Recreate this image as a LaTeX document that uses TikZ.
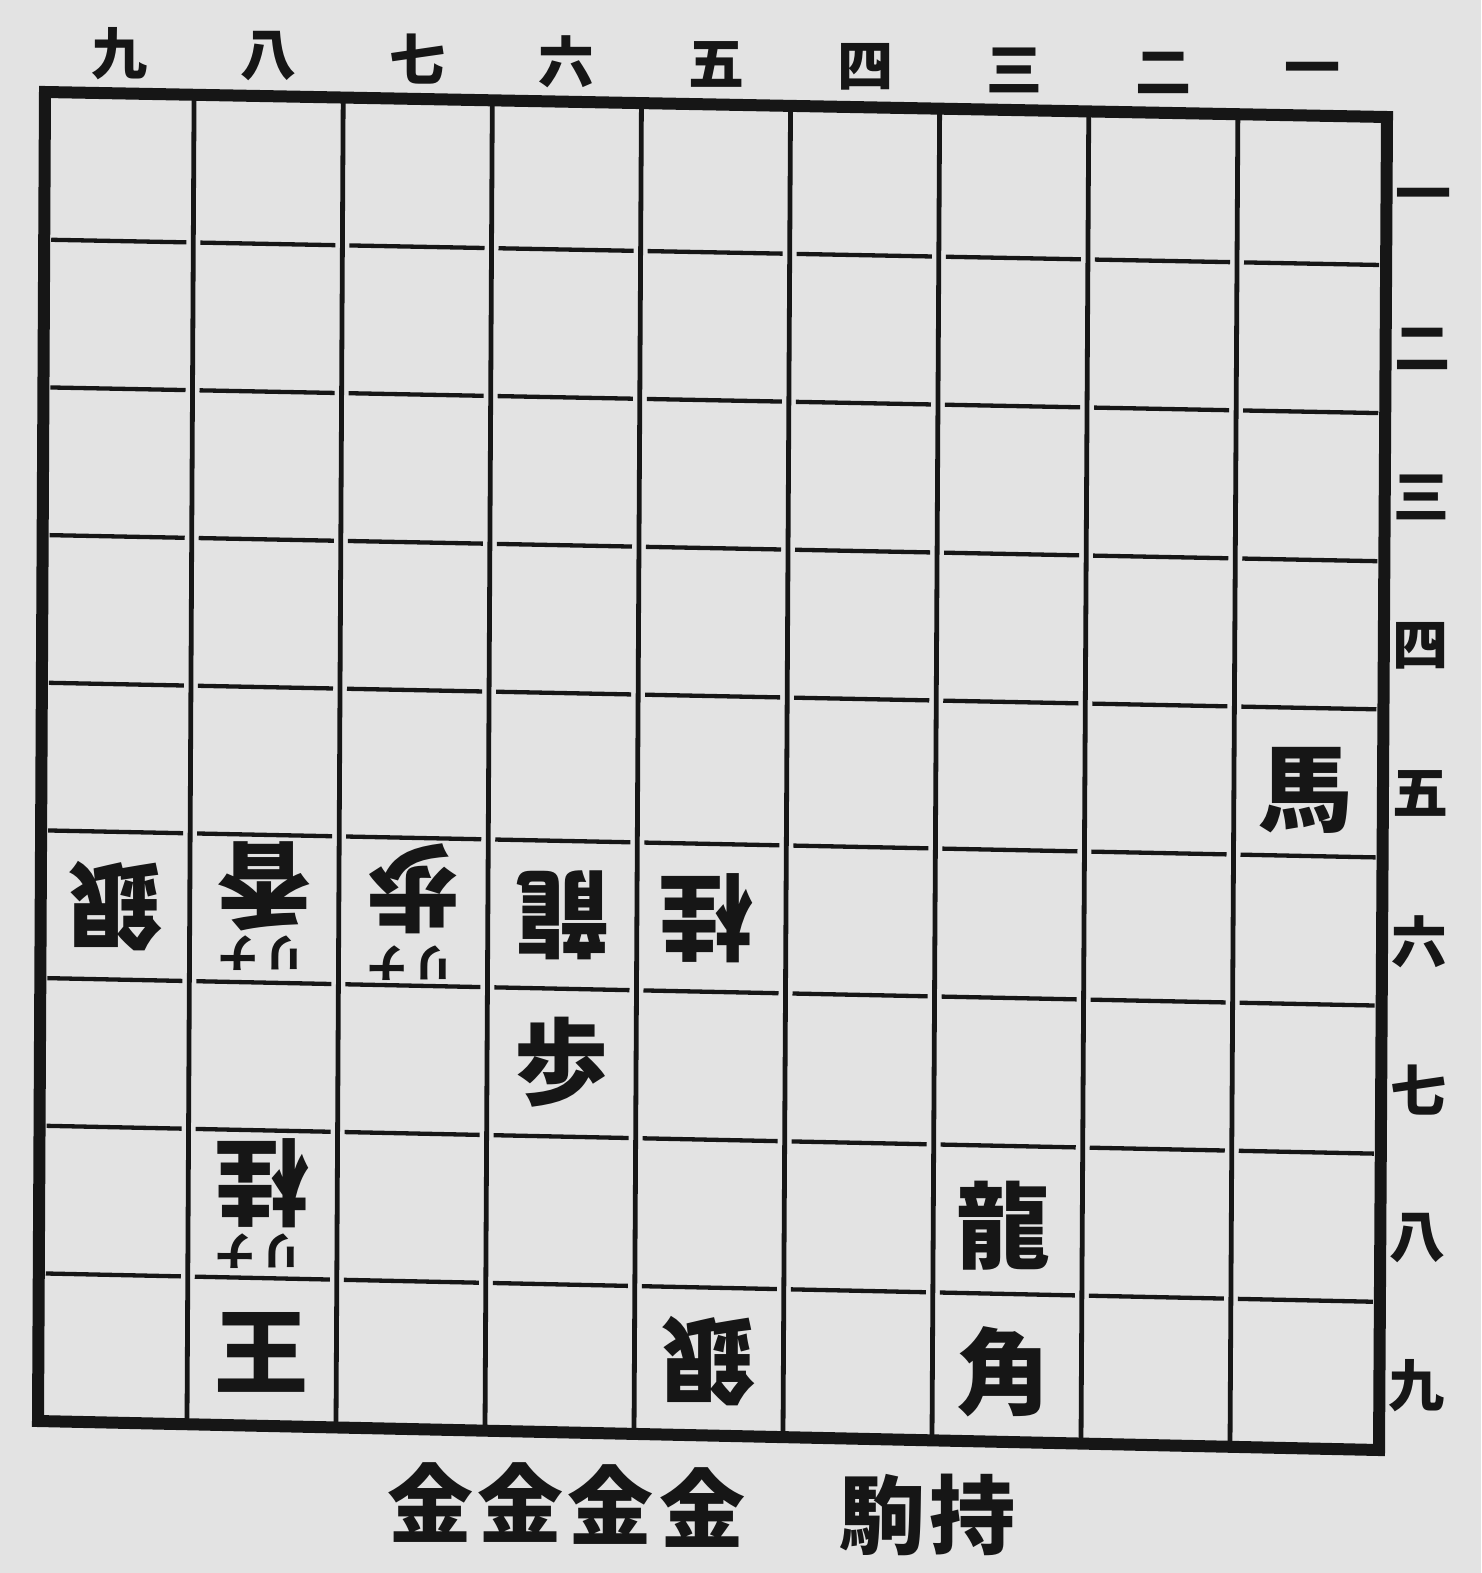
\documentclass[tikz,border=0pt]{standalone}
\usepackage{fontspec}
\newfontfamily\cjk{Noto Sans CJK JP}
\usetikzlibrary{calc}
\definecolor{paper}{HTML}{E3E3E3}
\definecolor{ink}{HTML}{161616}
\tikzset{
  border/.style={draw=ink, line width=12pt, line cap=rect},
  vline/.style={draw=ink, line width=4.8pt},
  hline/.style={draw=ink, line width=4.3pt, shorten <=7pt, shorten >=7pt},
  piece/.style={font={\cjk\bfseries\fontsize{94pt}{94pt}\selectfont}, text=ink, inner sep=0pt},
  gote/.style={piece, rotate=180},
  kana/.style={font={\cjk\bfseries\fontsize{40pt}{40pt}\selectfont}, text=ink, inner sep=0pt, rotate=180},
  coordlabel/.style={font={\cjk\bfseries\fontsize{56pt}{56pt}\selectfont}, text=ink, inner sep=0pt},
  hand/.style={font={\cjk\bfseries\fontsize{86pt}{86pt}\selectfont}, text=ink, inner sep=0pt}
}
\begin{document}
\begin{tikzpicture}[x=1pt,y=-1pt]
\useasboundingbox (0,0) rectangle (1481,1573);
\fill[paper] (0,0) rectangle (1481,1573);
% board corners
\coordinate (TL) at (45,92);
\coordinate (TR) at (1387,117);
\coordinate (BL) at (38,1421);
\coordinate (BR) at (1379,1450);
\foreach \i in {0,...,9} {
  \coordinate (T\i) at ($(TL)!\i/9!(TR)$);
  \coordinate (B\i) at ($(BL)!\i/9!(BR)$);
}
\foreach \c in {0,...,8} {
  \coordinate (Tm\c) at ($(TL)!{(\c+0.5)/9}!(TR)$);
  \coordinate (Bm\c) at ($(BL)!{(\c+0.5)/9}!(BR)$);
}
\foreach \c in {0,...,8} \foreach \r in {0,...,8}
  \coordinate (C\c-\r) at ($(Tm\c)!{(\r+0.5)/9}!(Bm\c)$);
\foreach \r in {0,...,8}
  \coordinate (R\r) at ($(TR)!{(\r+0.5)/9}!(BR)$);
\foreach \i in {0,...,9} \foreach \j in {1,...,8}
  \coordinate (P\i-\j) at ($(T\i)!\j/9!(B\i)$);
% grid
\foreach \i in {1,...,8} \draw[vline] (T\i) -- (B\i);
\foreach \j in {1,...,8} \foreach \i [count=\k] in {0,...,8}
  \draw[hline] (P\i-\j) -- (P\k-\j);
\draw[border] (TL) -- (TR) -- (BR) -- (BL) -- cycle;
% coordinates
\foreach \t [count=\c from 0] in {九,八,七,六,五,四,三,二,一}
  \node[coordlabel] (top\c) at ($(Tm\c)+(0,-40)$) {\t};
\foreach \t [count=\r from 0] in {一,二,三,四,五,六,七,八,九}
  \node[coordlabel] (side\r) at ($(R\r)+(37,10)$) {\t};
% pieces
\node[piece] (p15) at ($(C8-4)+(-3,8)$) {馬};
\node[gote] (p96) at (C0-5) {銀};
\node[gote] (p86) at ($(C1-5)+(0,-22)$) {香};
\node[kana] (p86n) at ($(C1-5)+(-3,44)$) {リ\hspace{6pt}ナ};
\node[gote] (p76) at ($(C2-5)+(0,-23)$) {歩};
\node[kana] (p76n) at ($(C2-5)+(-3,51)$) {リ\hspace{6pt}ナ};
\node[gote] (p66) at (C3-5) {龍};
\node[gote] (p56) at ($(C4-5)+(-5,0)$) {桂};
\node[piece] (p67) at (C3-6) {歩};
\node[gote] (p88) at ($(C1-7)+(0,-21)$) {桂};
\node[kana] (p88n) at ($(C1-7)+(-4,47)$) {リ\hspace{6pt}ナ};
\node[piece] (p89) at (C1-8) {王};
\node[gote] (p59) at (C4-8) {銀};
\node[piece] (p38) at ($(C6-7)+(-4,6)$) {龍};
\node[piece] (p39) at ($(C6-8)+(-3,4)$) {角};
% pieces in hand
\node[hand] (h1) at (430,1503) {金};
\node[hand] (h2) at (520,1503) {金};
\node[hand] (h3) at (610,1505) {金};
\node[hand] (h4) at (702,1508) {金};
\node[hand] (h5) at (882,1515) {駒};
\node[hand] (h6) at (972,1515) {持};
\end{tikzpicture}
\end{document}
